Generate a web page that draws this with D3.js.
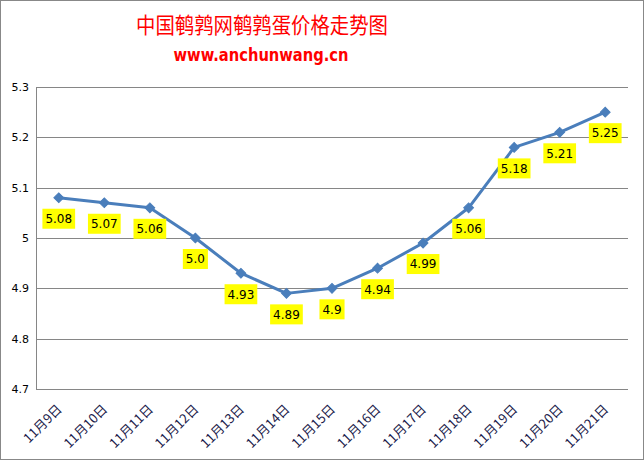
<!DOCTYPE html>
<html>
<head>
<meta charset="utf-8">
<script src="https://cdn.jsdelivr.net/npm/d3@7"></script>
<style>
  body { margin: 0; background: #fff; }
  svg { display: block; }
</style>
</head>
<body>
<script>
//chart data
var dates = ["11月9日", "11月10日", "11月11日", "11月12日", "11月13日", "11月14日", "11月15日",
             "11月16日", "11月17日", "11月18日", "11月19日", "11月20日", "11月21日"];
var prices = [5.08, 5.07, 5.06, 5.00, 4.93, 4.89, 4.90, 4.94, 4.99, 5.06, 5.18, 5.21, 5.25];
var priceLabels = ["5.08", "5.07", "5.06", "5.0", "4.93", "4.89", "4.9", "4.94", "4.99", "5.06", "5.18", "5.21", "5.25"];
var yTicks = [4.7, 4.8, 4.9, 5, 5.1, 5.2, 5.3];
var yTickLabels = ["4.7", "4.8", "4.9", "5", "5.1", "5.2", "5.3"];

//svg size and plot area (note: "top" is reserved on window, so use plot* names)
var w = 644, h = 460;
var plotLeft = 36, plotRight = 628, plotTop = 87, plotBottom = 389;

var svg = d3.select("body")
    .append("svg")
    .attr("width", w)
    .attr("height", h);

//outer frame
svg.append("rect")
    .attr("x", 0.5)
    .attr("y", 0.5)
    .attr("width", w - 1)
    .attr("height", h - 1)
    .style("fill", "#fff")
    .style("stroke", "#888");

//titles
svg.append("text")
    .attr("x", 262)
    .attr("y", 33)
    .attr("text-anchor", "middle")
    .style("font-family", "'Noto Sans CJK SC', sans-serif")
    .style("font-size", "22px")
    .style("fill", "#ff0000")
    .attr("textLength", 252)
    .attr("lengthAdjust", "spacingAndGlyphs")
    .text("中国鹌鹑网鹌鹑蛋价格走势图");

svg.append("text")
    .attr("x", 261)
    .attr("y", 61)
    .attr("text-anchor", "middle")
    .style("font-family", "'DejaVu Sans', sans-serif")
    .style("font-weight", "bold")
    .style("font-size", "17px")
    .style("fill", "#ff0000")
    .attr("textLength", 175)
    .attr("lengthAdjust", "spacingAndGlyphs")
    .text("www.anchunwang.cn");

//scales
var x = d3.scalePoint()
    .domain(dates)
    .range([plotLeft, plotRight])
    .padding(0.5);

var y = d3.scaleLinear()
    .domain([4.7, 5.3])
    .range([plotBottom, plotTop]);

//gridlines
svg.selectAll(".grid")
    .data(yTicks)
    .enter()
    .append("line")
    .attr("class", "grid")
    .attr("x1", plotLeft)
    .attr("x2", plotRight)
    .attr("y1", function(d){ return Math.round(y(d)) + 0.5; })
    .attr("y2", function(d){ return Math.round(y(d)) + 0.5; })
    .style("stroke", "#868686")
    .style("stroke-width", 1);

//y axis line
svg.append("line")
    .attr("x1", plotLeft + 0.5)
    .attr("x2", plotLeft + 0.5)
    .attr("y1", plotTop)
    .attr("y2", plotBottom + 0.5)
    .style("stroke", "#868686");

//y axis labels
svg.selectAll(".ylab")
    .data(yTicks)
    .enter()
    .append("text")
    .attr("class", "ylab")
    .attr("x", 29)
    .attr("y", function(d){ return y(d); })
    .attr("dy", "0.35em")
    .attr("text-anchor", "end")
    .style("font-family", "'DejaVu Sans', sans-serif")
    .style("font-size", "11px")
    .style("fill", "#000")
    .text(function(d, i){ return yTickLabels[i]; });

//x axis labels, rotated
svg.selectAll(".xlab")
    .data(dates)
    .enter()
    .append("text")
    .attr("class", "xlab")
    .attr("text-anchor", "end")
    .attr("transform", function(d){
        return "translate(" + (x(d) + 4) + ",410) rotate(-45)";
    })
    .style("font-family", "'Noto Sans CJK SC', sans-serif")
    .style("font-size", "13px")
    .style("fill", "#1a1a4a")
    .text(function(d){ return d; });

//price line
var line = d3.line()
    .x(function(d, i){ return x(dates[i]); })
    .y(function(d){ return y(d); });

svg.append("path")
    .datum(prices)
    .attr("d", line)
    .style("fill", "none")
    .style("stroke", "#4a7ebb")
    .style("stroke-width", 3)
    .style("stroke-linejoin", "round");

//diamond markers
svg.selectAll(".marker")
    .data(prices)
    .enter()
    .append("path")
    .attr("class", "marker")
    .attr("d", d3.symbol().type(d3.symbolSquare).size(48))
    .attr("transform", function(d, i){
        return "translate(" + x(dates[i]) + "," + y(d) + ") rotate(45)";
    })
    .style("fill", "#4a7ebb")
    .style("stroke", "#4a7ebb");

//value labels with yellow boxes
var labels = svg.selectAll(".vlab")
    .data(prices)
    .enter()
    .append("g")
    .attr("class", "vlab")
    .attr("transform", function(d, i){
        return "translate(" + x(dates[i]) + "," + (y(d) + 21) + ")";
    });

var boxes = labels.append("rect")
    .style("fill", "#ffff00");

var texts = labels.append("text")
    .attr("text-anchor", "middle")
    .attr("dy", "0.36em")
    .style("font-family", "'DejaVu Sans', sans-serif")
    .style("font-size", "12px")
    .style("fill", "#000")
    .text(function(d, i){ return priceLabels[i]; });

texts.each(function(d, i){
    var tw = this.getComputedTextLength();
    d3.select(boxes.nodes()[i])
        .attr("x", -tw / 2 - 3)
        .attr("y", -10)
        .attr("width", tw + 6)
        .attr("height", 20);
});
</script>
</body>
</html>
